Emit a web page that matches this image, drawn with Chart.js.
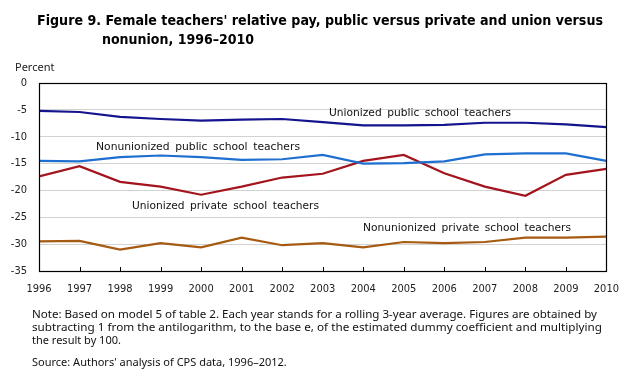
<!DOCTYPE html>
<html>
<head>
<meta charset="utf-8">
<script src="https://cdn.jsdelivr.net/npm/chart.js@4"></script>
<style>
  html, body { margin: 0; padding: 0; background: #fff; }
  #wrap { position: relative; width: 631px; height: 378px; overflow: hidden; }
  #c { position: absolute; left: 0; top: 0; }
  .t { position: absolute; white-space: nowrap; transform-origin: 0 0; color: #111; }
  .title { font-family: "DejaVu Sans Condensed", "DejaVu Sans", sans-serif; font-weight: bold; font-size: 14px; color: #000; }
  .note { font-family: "Noto Sans", "Liberation Sans", sans-serif; font-size: 11px; color: #111; }
  .unit { font-family: "Noto Sans", "Liberation Sans", sans-serif; font-size: 11px; color: #222; }
  .lab { font-family: "DejaVu Sans Condensed", "DejaVu Sans", sans-serif; font-size: 11px; color: #111; word-spacing: 2px; }
</style>
</head>
<body>
<div id="wrap">
  <canvas id="c" width="631" height="378"></canvas>
</div>
<script>
// ---- data ----
const years = [1996, 1997, 1998, 1999, 2000, 2001, 2002, 2003, 2004, 2005, 2006, 2007, 2008, 2009, 2010];
const unionizedPublic    = [-5.2, -5.4, -6.3, -6.7, -7.0, -6.8, -6.7, -7.3, -7.9, -7.9, -7.8, -7.4, -7.4, -7.7, -8.2];
const nonunionizedPublic = [-14.5, -14.6, -13.8, -13.5, -13.8, -14.3, -14.2, -13.4, -15.0, -14.9, -14.6, -13.3, -13.1, -13.1, -14.5];
const unionizedPrivate   = [-17.4, -15.5, -18.4, -19.3, -20.8, -19.3, -17.6, -16.9, -14.5, -13.4, -16.8, -19.3, -21.0, -17.1, -16.0];
const nonunionizedPrivate= [-29.5, -29.4, -31.0, -29.8, -30.6, -28.8, -30.2, -29.8, -30.6, -29.6, -29.8, -29.6, -28.8, -28.8, -28.6];
const yTicks = [0, -5, -10, -15, -20, -25, -30, -35];
const seriesNames = ["Unionized public school teachers", "Nonunionized public school teachers",
                     "Unionized private school teachers", "Nonunionized private school teachers"];
const titleLines = ["Figure 9. Female teachers' relative pay, public versus private and union versus",
                    "nonunion, 1996\u20132010"];
const unitLabel = "Percent";
const noteLines = ["Note: Based on model 5 of table 2. Each year stands for a rolling 3-year average. Figures are obtained by",
                   "subtracting  1 from  the antilogarithm,  to the base e, of the estimated dummy coefficient and multiplying",
                   "the result by 100."];
const sourceLine = "Source: Authors' analysis  of CPS data, 1996\u20132012.";

// ---- styling / layout (not data) ----
const colors = ["#14148f", "#1f6fd0", "#a3141c", "#a65a12"];
// label anchors in data coordinates (year, value at text baseline)
const labelAnchors = [[2003.15, -6.2], [1997.41, -12.55], [1998.3, -23.55], [2004.0, -27.6]];
const labelWidths = [182, 204, 187, 208];

const wrap = document.getElementById('wrap');
function addText(text, cls, x, baseline, width) {
  const d = document.createElement('div');
  d.className = 't ' + cls;
  d.textContent = text;
  const s = document.createElement('span');
  s.style.cssText = 'display:inline-block;width:0;height:0;vertical-align:baseline;';
  d.appendChild(s);
  wrap.appendChild(d);
  d.style.left = x + 'px';
  d.style.top = '0px';
  const off = s.offsetTop;
  d.style.top = (baseline - off) + 'px';
  if (width) {
    const w = d.getBoundingClientRect().width;
    d.style.transform = 'scaleX(' + (width / w) + ')';
  }
  return d;
}

addText(titleLines[0], 'title', 37, 25, 566);
addText(titleLines[1], 'title', 102, 44);
addText(unitLabel, 'unit', 15, 70.5);
addText(noteLines[0], 'note', 32, 317.5, 565);
addText(noteLines[1], 'note', 32, 330.8, 570);
addText(noteLines[2], 'note', 32, 344);
addText(sourceLine, 'note', 32, 365.7);

const frame = {
  id: 'frame',
  beforeDatasetsDraw(chart) {
    const {ctx, chartArea: a, scales: {x}} = chart;
    ctx.save();
    ctx.strokeStyle = '#000';
    ctx.lineWidth = 1;
    ctx.beginPath();
    years.forEach(yr => {
      const px = Math.round(x.getPixelForValue(yr)) + 0.5;
      ctx.moveTo(px, a.bottom);
      ctx.lineTo(px, a.bottom - 4);
    });
    ctx.stroke();
    ctx.restore();
  },
  afterDraw(chart) {
    const {ctx, chartArea: a} = chart;
    ctx.save();
    ctx.strokeStyle = '#000';
    ctx.lineWidth = 1.2;
    ctx.strokeRect(Math.round(a.left) + 0.5, Math.round(a.top) + 0.5,
                   Math.round(a.right - a.left), Math.round(a.bottom - a.top));
    ctx.restore();
    if (!chart._labelsPlaced) {
      chart._labelsPlaced = true;
      const {x, y} = chart.scales;
      seriesNames.forEach((n, i) => {
        addText(n, 'lab', x.getPixelForValue(labelAnchors[i][0]), y.getPixelForValue(labelAnchors[i][1]), labelWidths[i]);
      });
    }
  }
};

const mk = (arr) => years.map((yr, i) => ({x: yr, y: arr[i]}));
new Chart(document.getElementById('c'), {
  type: 'line',
  data: {
    datasets: [unionizedPublic, nonunionizedPublic, unionizedPrivate, nonunionizedPrivate].map((arr, i) => ({
      label: seriesNames[i],
      data: mk(arr),
      borderColor: colors[i],
      backgroundColor: colors[i],
      borderWidth: 2.2,
      pointRadius: 0,
      tension: 0,
      fill: false
    }))
  },
  options: {
    responsive: false,
    animation: false,
    events: [],
    layout: { padding: { top: 83, right: 22, bottom: 0, left: 0 } },
    plugins: { legend: { display: false }, tooltip: { enabled: false }, title: { display: false } },
    scales: {
      x: {
        type: 'linear',
        min: years[0], max: years[years.length - 1],
        afterBuildTicks(s) { s.ticks = years.map(v => ({value: v})); },
        afterFit(s) { s.height = 107; },
        grid: { display: false, drawTicks: false },
        border: { display: false },
        ticks: {
          padding: 12,
          maxRotation: 0,
          autoSkip: false,
          color: '#222',
          font: { family: '"DejaVu Sans Condensed", "DejaVu Sans", sans-serif', size: 11 },
          callback: v => String(v)
        }
      },
      y: {
        min: -35, max: 0,
        afterBuildTicks(s) { s.ticks = yTicks.map(v => ({value: v})); },
        afterFit(s) { s.width = 39; },
        grid: { color: '#d2d2d2', lineWidth: 1, drawTicks: false },
        border: { display: false },
        ticks: {
          padding: 12,
          color: '#222',
          font: { family: '"DejaVu Sans Condensed", "DejaVu Sans", sans-serif', size: 11 },
          callback: v => String(v)
        }
      }
    }
  },
  plugins: [frame]
});
</script>
</body>
</html>
